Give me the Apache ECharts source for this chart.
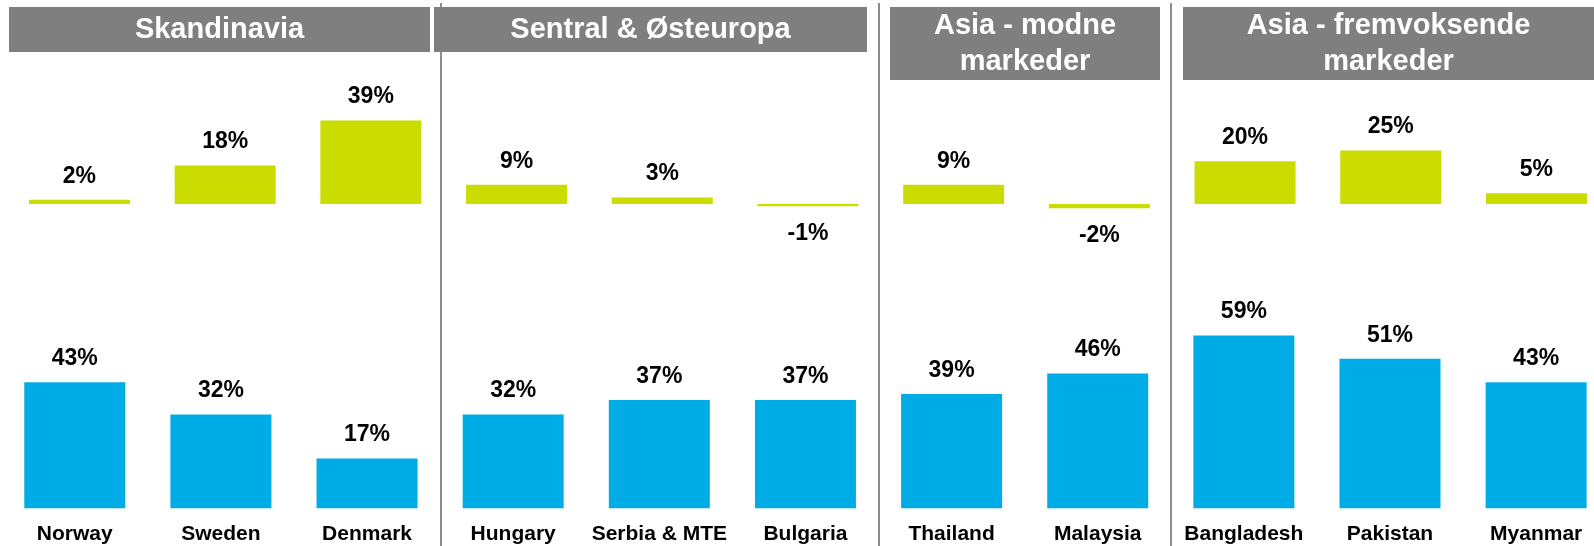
<!DOCTYPE html>
<html>
<head>
<meta charset="utf-8">
<script src="https://cdn.jsdelivr.net/npm/echarts@6/dist/echarts.min.js"></script>
<style>
  html, body { margin: 0; padding: 0; background: #fff; }
  #chart { width: 1594px; height: 546px; }
</style>
</head>
<body>
<div id="chart"></div>
<script>
const countries = ['Norway', 'Sweden', 'Denmark', 'Hungary', 'Serbia & MTE', 'Bulgaria',
  'Thailand', 'Malaysia', 'Bangladesh', 'Pakistan', 'Myanmar'];
const growthValues = [2, 18, 39, 9, 3, -1, 9, -2, 20, 25, 5];
const shareValues = [43, 32, 17, 32, 37, 37, 39, 46, 59, 51, 43];
const regions = ['Skandinavia', 'Sentral & Østeuropa', 'Asia - modne\nmarkeder', 'Asia - fremvoksende\nmarkeder'];

const GREEN = '#cadc00';
const BLUE = '#00ace6';
const HEADER = '#7f7f7f';
const FONT = '"Liberation Sans", Arial, sans-serif';

// header boxes [x, y, w, h] and divider x positions
const headerBoxes = [[9, 7, 421, 45], [434, 7, 433, 45], [890, 7, 270, 73], [1183, 7, 411, 73]];
const dividers = [441, 879, 1171];

const chart = echarts.init(document.getElementById('chart'));

const graphics = [];
dividers.forEach((x) => {
  graphics.push({
    type: 'line', z: 1,
    shape: { x1: x, y1: 3, x2: x, y2: 546 },
    style: { stroke: '#8c8c8c', lineWidth: 2 },
  });
});
regions.forEach((name, i) => {
  const [x, y, w, h] = headerBoxes[i];
  graphics.push({
    type: 'rect', z: 2,
    shape: { x, y, width: w, height: h },
    style: { fill: HEADER },
  });
  graphics.push({
    type: 'text', z: 3,
    x: x + w / 2,
    y: y + h / 2,
    style: {
      text: name,
      fill: '#fff',
      font: 'bold 29px ' + FONT,
      align: 'center',
      verticalAlign: 'middle',
      lineHeight: 36,
    },
  });
});

const labelStyle = {
  show: true,
  fontFamily: FONT,
  fontWeight: 'bold',
  fontSize: 23,
  color: '#000',
  formatter: (p) => p.value + '%',
};

const option = {
  backgroundColor: '#fff',
  animation: false,
  graphic: graphics,
  grid: [
    // grids run slightly past the right edge, like the original slide
    { left: 6.6, width: 1602.7, top: 118.4, height: 128.4, outerBoundsMode: 'none' },
    { left: 1.7, width: 1607.5, top: 332.5, height: 175.8, outerBoundsMode: 'none' },
  ],
  xAxis: [
    {
      type: 'category', gridIndex: 0, data: countries,
      axisLine: { show: false }, axisTick: { show: false }, axisLabel: { show: false },
    },
    {
      type: 'category', gridIndex: 1, data: countries,
      axisLine: { show: false }, axisTick: { show: false },
      axisLabel: {
        interval: 0, margin: 15, color: '#000',
        fontFamily: FONT, fontWeight: 'bold', fontSize: 21,
      },
    },
  ],
  yAxis: [
    { type: 'value', gridIndex: 0, min: -20, max: 40, show: false, splitLine: { show: false } },
    { type: 'value', gridIndex: 1, min: 0, max: 60, show: false, splitLine: { show: false } },
  ],
  series: [
    {
      type: 'bar', xAxisIndex: 0, yAxisIndex: 0, barWidth: 101,
      data: growthValues.map((v) => ({
        value: v,
        label: { position: v < 0 ? 'bottom' : 'top', distance: v < 0 ? 16 : 12 },
      })),
      itemStyle: { color: GREEN },
      label: labelStyle,
    },
    {
      type: 'bar', xAxisIndex: 1, yAxisIndex: 1, barWidth: 101,
      data: shareValues,
      itemStyle: { color: BLUE },
      label: Object.assign({ position: 'top', distance: 12 }, labelStyle),
    },
  ],
};

chart.setOption(option);
</script>
</body>
</html>
